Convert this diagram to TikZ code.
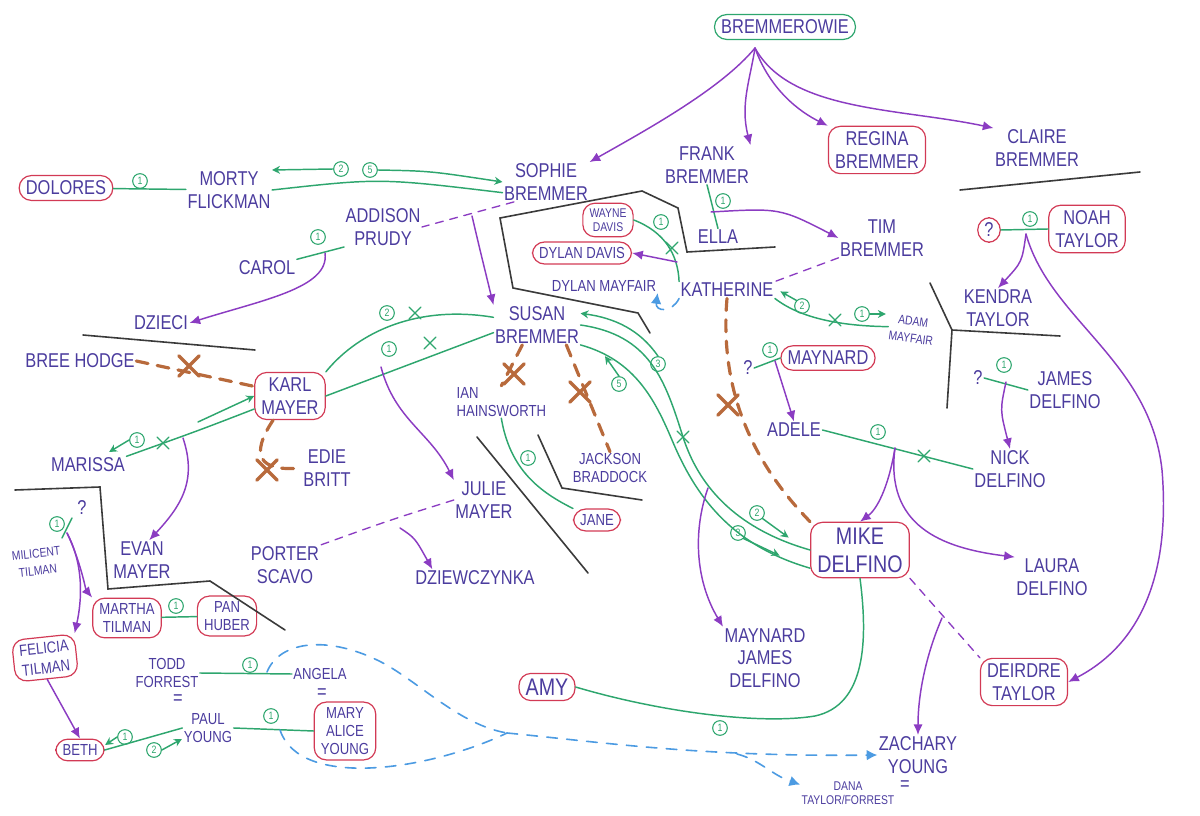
\documentclass[tikz,border=0pt]{standalone}
\usepackage{fontspec}
\setmainfont{Liberation Sans}[FakeStretch=0.82]
\usetikzlibrary{arrows.meta,shapes.misc}
\definecolor{ink}{HTML}{4B3C9E}
\definecolor{rose}{HTML}{D23A55}
\definecolor{leaf}{HTML}{2EA66E}
\definecolor{plum}{HTML}{8B3CC2}
\definecolor{rust}{HTML}{B86A3C}
\definecolor{sky}{HTML}{4C9BE2}
\definecolor{coal}{HTML}{3A3A3A}
\newcommand\nmsize{\fontsize{15}{17}\selectfont}
\newcommand\smsize{\fontsize{12}{13.5}\selectfont}
\newcommand\tnsize{\fontsize{9.5}{10.5}\selectfont}
\newcommand\tiltsize{\fontsize{9.5}{13}\selectfont}
\newcommand\lgsize{\fontsize{18}{21}\selectfont}
\newcommand\nrsize{\fontsize{8}{8}\selectfont}
\begin{document}
\begin{tikzpicture}[x=0.75pt, y=-0.75pt, line cap=round,
  who/.style={text=ink, font=\nmsize, align=center, inner sep=1pt},
  ring/.style={who, draw=rose, line width=0.9pt, rounded corners=9pt, inner xsep=5pt, inner ysep=4pt},
  kid/.style={draw=plum, line width=1.1pt, -{Latex[length=8pt,width=7pt]}},
  wed/.style={draw=leaf, line width=1.1pt},
  wedto/.style={wed, -{Stealth[length=6pt,width=6pt]}},
  nr/.style={circle, draw=leaf, text=leaf, line width=0.8pt, font=\nrsize, inner sep=0pt, minimum size=11pt},
  cut/.style={cross out, draw=leaf, line width=0.9pt, minimum size=8pt, inner sep=0pt},
  cheat/.style={draw=rust, line width=2.4pt, dash pattern=on 9pt off 7pt},
  bigcut/.style={cross out, draw=rust, line width=2.4pt, minimum size=13pt, inner sep=0pt},
  fling/.style={draw=plum, line width=1pt, dash pattern=on 6pt off 5pt},
  trail/.style={draw=sky, line width=1.2pt, dash pattern=on 8pt off 7pt},
  wall/.style={draw=coal, line width=1.2pt}]
\useasboundingbox (0,0) rectangle (1200,816);

% people
\node[ring, draw=leaf] (brw) at (785,27) {BREMMEROWIE};
\node[who] (sophie) at (546,182) {SOPHIE\\BREMMER};
\node[who] (frank) at (707,165) {FRANK\\BREMMER};
\node[ring] (regina) at (877,150) {REGINA\\BREMMER};
\node[who] (claire) at (1037,148) {CLAIRE\\BREMMER};
\node[ring] (dolores) at (66,188) {DOLORES};
\node[who] (morty) at (229,190) {MORTY\\FLICKMAN};
\node[who] (addison) at (383,227) {ADDISON\\PRUDY};
\node[who] (carol) at (267,268) {CAROL};
\node[who] (dzieci) at (161,323) {DZIECI};
\node[who] (bree) at (80,361) {BREE HODGE};
\node[ring] (karl) at (290,396) {KARL\\MAYER};
\node[who] (edie) at (327,468) {EDIE\\BRITT};
\node[who] (marissa) at (88,465) {MARISSA};
\node[who] (evan) at (142,560) {EVAN\\MAYER};
\node[who, font=\tiltsize, rotate=6] (milicent) at (37,562) {MILICENT\\TILMAN};
\node[who] (qmil) at (82,508) {?};
\node[ring, font=\smsize] (martha) at (127,618) {MARTHA\\TILMAN};
\node[ring, font=\smsize] (pan) at (227,616) {PAN\\HUBER};
\node[ring, font=\fontsize{12}{15}\selectfont, rotate=6] (felicia) at (45,658) {FELICIA\\TILMAN};
\node[ring, font=\smsize] (beth) at (80,750) {BETH};
\node[who, font=\smsize] (todd) at (167,673) {TODD\\FORREST};
\node[who] (eqtodd) at (178,700) {=};
\node[who, font=\smsize] (angela) at (320,674) {ANGELA};
\node[who] (eqang) at (322,694) {=};
\node[ring, font=\smsize] (mary) at (345,731) {MARY\\ALICE\\YOUNG};
\node[who, font=\smsize] (paul) at (208,728) {PAUL\\YOUNG};
\node[who] (porter) at (285,565) {PORTER\\SCAVO};
\node[who] (dziew) at (475,578) {DZIEWCZYNKA};
\node[who] (julie) at (484,500) {JULIE\\MAYER};
\node[who] (susan) at (537,325) {SUSAN\\BREMMER};
\node[who, align=left, font=\smsize, anchor=west] (ian) at (455,402) {IAN\\HAINSWORTH};
\node[who, font=\smsize] (jackson) at (610,468) {JACKSON\\BRADDOCK};
\node[ring, font=\smsize] (jane) at (597,520) {JANE};
\node[ring, font=\tnsize] (wayne) at (608,220) {WAYNE\\DAVIS};
\node[ring, font=\smsize] (dylan) at (582,253) {DYLAN DAVIS};
\node[who] (ella) at (718,237) {ELLA};
\node[who] (tim) at (882,238) {TIM\\BREMMER};
\node[who, font=\smsize] (dylanm) at (604,286) {DYLAN MAYFAIR};
\node[who] (kath) at (727,290) {KATHERINE};
\node[who, font=\tiltsize, rotate=-8] (adam) at (912,330) {ADAM\\MAYFAIR};
\node[ring] (maynard) at (828,358) {MAYNARD};
\node[who] (qmay) at (748,368) {?};
\node[who] (adele) at (794,430) {ADELE};
\node[ring] (noah) at (1087,229) {NOAH\\TAYLOR};
\node[ring] (qnoah) at (989,230) {?};
\node[who] (kendra) at (998,308) {KENDRA\\TAYLOR};
\node[who] (qjames) at (978,378) {?};
\node[who] (james) at (1065,390) {JAMES\\DELFINO};
\node[who] (nick) at (1010,469) {NICK\\DELFINO};
\node[ring, font=\lgsize] (mike) at (860,550) {MIKE\\DELFINO};
\node[who] (laura) at (1052,577) {LAURA\\DELFINO};
\node[who] (mjd) at (765,658) {MAYNARD\\JAMES\\DELFINO};
\node[ring, font=\lgsize] (amy) at (547,687) {AMY};
\node[ring] (deirdre) at (1024,682) {DEIRDRE\\TAYLOR};
\node[who] (zach) at (918,755) {ZACHARY\\YOUNG};
\node[who] (eqzach) at (905,786) {=};
\node[who, font=\tnsize] (dana) at (848,793) {DANA\\TAYLOR/FORREST};

% walls
\draw[wall] (960,190) -- (1140,172);
\draw[wall] (83,335) -- (255,350);
\draw[wall] (650,333) -- (638,313) -- (513,288) -- (500,218) -- (642,191) -- (678,208) -- (687,252) -- (775,247);
\draw[wall] (930,283) -- (952,330) -- (1060,336);
\draw[wall] (952,330) -- (947,408);
\draw[wall] (15,490) -- (100,487) -- (108,589) -- (210,581) -- (285,630);
\draw[wall] (477,437) -- (588,573);
\draw[wall] (538,435) -- (562,488) -- (642,500);

% Bremmerowie
\coordinate (brwfoot) at (755,48);
\draw[kid] (brwfoot) .. controls (722,88) and (650,128) .. (sophie.north east);
\draw[kid] (brwfoot) .. controls (750,80) and (740,105) .. (frank.north east);
\draw[kid] (brwfoot) .. controls (770,90) and (800,112) .. (regina.north west);
\draw[kid] (brwfoot) .. controls (790,112) and (900,108) .. (claire.north west);

% Dolores, Morty, Sophie
\draw[wed] (dolores) -- (morty);
\node[nr] (dm1) at (140,181) {1};
\node[nr] (ms2) at (341,169) {2};
\node[nr] (ms5) at (370,170) {5};
\draw[wedto] (ms2.west) -- (morty.north east);
\draw[wedto] (ms5.east) .. controls (430,171) .. (sophie.west);
\draw[wed] (morty.east) .. controls (380,178) .. ([yshift=-8pt]sophie.west);

% Addison, Carol
\draw[wed] (carol.north east) -- (addison.south west);
\node[nr] (ac1) at (318,237) {1};
\coordinate (acfoot) at (325,253);
\draw[kid] (acfoot) .. controls (330,288) and (262,300) .. (dzieci.east);
\coordinate (sofoot) at (472,216);
\draw[fling] ([xshift=-24pt]sophie.south) -- (addison.east);
\draw[kid] (sofoot) .. controls (480,250) .. (susan.north west);

% Frank, Ella, Tim
\draw[wed] (frank.south) -- (ella.north);
\node[nr] (fe1) at (723,201) {1};
\coordinate (fefoot) at (711,212);
\draw[kid] (fefoot) .. controls (780,208) .. (tim.west);
\draw[fling] (tim.south west) -- (kath.north east);

% Katherine
\draw[wed] (wayne.east) .. controls (665,232) and (678,255) .. (kath.north west);
\node[nr] (wk1) at (661,222) {1};
\node[cut] (wkx) at (672,248) {};
\coordinate (wkfoot) at (677,262);
\draw[kid] (wkfoot) -- (dylan.east);
\draw[trail, -{Latex[length=8pt,width=8pt]}] (kath.south west) .. controls (672,313) and (655,312) .. (dylanm.south east);
\draw[wed] (kath.south east) .. controls (800,318) and (840,326) .. (adam.west);
\node[nr] (ka2) at (802,306) {2};
\draw[wedto] (ka2.north west) -- ++(-16,-9);
\node[cut] (kax) at (835,320) {};
\node[nr] (ka1) at (862,314) {1};
\draw[wedto] (ka1.east) -- ++(16,0);
\draw[cheat] (kath.south) .. controls (720,380) and (745,455) .. (mike.north west);
\node[bigcut] (kmx) at (728,405) {};

% Maynard, Adele, Nick
\draw[wed] (qmay.east) -- (maynard.west);
\node[nr] (qm1) at (770,350) {1};
\coordinate (qmfoot) at (775,361);
\draw[kid] (qmfoot) -- (adele.north);
\draw[wed] (adele.east) -- (nick.west);
\node[nr] (an1) at (878,432) {1};
\node[cut] (anx) at (924,456) {};
\coordinate (anfoot) at (895,448);
\draw[kid] (anfoot) .. controls (888,490) and (876,510) .. (mike.north);
\draw[kid] (anfoot) .. controls (885,525) and (940,548) .. (laura.north west);

% Noah, James
\draw[wed] (qnoah.east) -- (noah.west);
\node[nr] (qn1) at (1030,219) {1};
\coordinate (qnfoot) at (1026,234);
\draw[kid] (qnfoot) .. controls (1022,262) .. (kendra.north);
\draw[kid] (qnfoot) .. controls (1050,320) and (1150,360) .. (1162,470) .. controls (1172,590) and (1130,650) .. (deirdre.east);
\draw[wed] (qjames.east) -- (james.west);
\node[nr] (qj1) at (1004,365) {1};
\coordinate (qjfoot) at (1006,382);
\draw[kid] (qjfoot) .. controls (1000,410) .. (nick.north);

% Susan, Karl
\draw[wed] (karl.north east) .. controls (360,330) and (420,305) .. (susan.170);
\node[nr] (sk2) at (387,313) {2};
\node[cut] (sk2x) at (415,313) {};
\draw[wed] (karl.east) -- (susan.190);
\node[nr] (sk1) at (389,349) {1};
\node[cut] (sk1x) at (430,343) {};
\coordinate (skfoot) at (381,367);
\draw[kid] (skfoot) .. controls (395,420) and (430,432) .. (julie.north west);
\draw[cheat] ([xshift=-11pt]susan.south) -- (ian.north);
\node[bigcut] (six) at (514,374) {};
\draw[cheat] ([xshift=22pt]susan.south) -- (jackson.north);
\node[bigcut] (sjx) at (580,392) {};
\draw[wed] (ian.south) .. controls (510,470) and (540,492) .. (jane.north west);
\node[nr] (ij1) at (528,458) {1};

% Susan, Mike
\node[nr] (sm3) at (658,364) {3};
\draw[wedto] (sm3.north) .. controls (640,330) and (615,318) .. (susan.15);
\draw[wed] (susan.east) .. controls (650,335) and (665,380) .. (683,437) .. controls (700,490) and (740,530) .. (mike.west);
\node[cut] (smx) at (683,437) {};
\draw[wed] (susan.south east) .. controls (635,360) and (655,400) .. (672,440) .. controls (695,495) and (730,545) .. (mike.200);
\node[nr] (sm5) at (619,384) {5};
\draw[wedto] (sm5.north) -- ++(-14,-20);
\node[nr] (sm2) at (757,513) {2};
\draw[wedto] (sm2.south east) -- ++(26,19);
\node[nr] (sm3b) at (738,533) {3};
\draw[wedto] (sm3b.south east) -- ++(36,17);
\coordinate (mjfoot) at (708,488);
\draw[kid] (mjfoot) .. controls (693,530) and (695,580) .. (mjd.north west);

% Amy, Deirdre
\draw[wed] (amy.east) .. controls (660,712) and (760,725) .. (815,716) .. controls (866,705) and (868,640) .. (mike.south);
\node[nr] (am1) at (720,728) {1};
\draw[fling] (mike.south east) -- (deirdre.north west);
\coordinate (mdfoot) at (942,618);
\draw[kid] (mdfoot) .. controls (928,650) and (918,690) .. (zach.north);

% Karl, Marissa, Bree, Edie
\coordinate (km0) at (198,422);
\draw[wedto] (km0) -- (karl.west);
\draw[wed] (karl.200) .. controls (200,430) .. (marissa.north east);
\node[cut] (kmx2) at (163,443) {};
\node[nr] (km1) at (137,440) {1};
\draw[wedto] (km1.west) -- ++(-20,12);
\coordinate (kmfoot) at (183,438);
\draw[kid] (kmfoot) .. controls (197,480) and (182,505) .. (evan.70);
\draw[cheat] (karl.235) .. controls (250,455) and (258,472) .. (edie.west);
\node[bigcut] (kex) at (267,470) {};
\draw[cheat] (bree.east) -- (karl.165);
\node[bigcut] (bkx) at (189,366) {};

% Julie, Porter
\draw[fling] (julie.west) .. controls (390,520) .. (porter.north east);
\coordinate (jpfoot) at (400,528);
\draw[kid] (jpfoot) .. controls (415,538) .. ([xshift=14pt]dziew.north west);

% Tilman
\coordinate (mil0) at (62,538);
\coordinate (mil1) at (72,518);
\draw[wed] (mil0) -- (mil1);
\node[nr] (ml1) at (57,524) {1};
\coordinate (milfoot) at (67,533);
\draw[kid] (milfoot) .. controls (84,565) and (82,600) .. (felicia.north east);
\draw[kid] (milfoot) .. controls (80,560) and (86,590) .. (martha.north west);
\draw[wed] (martha) -- (pan);
\node[nr] (mp1) at (176,606) {1};
\draw[kid] (felicia.south) -- (beth.north);

% Forrest, Young
\draw[wed] (todd.east) -- (angela.west);
\node[nr] (ta1) at (250,665) {1};
\draw[wed] (paul.east) -- (mary.west);
\node[nr] (pm1) at (271,716) {1};
\draw[wed] (beth.east) -- (paul.west);
\node[nr] (bp1) at (125,737) {1};
\draw[wedto] (bp1.west) -- ++(-12,8);
\node[nr] (bp2) at (154,750) {2};
\draw[wedto] (bp2.east) -- ++(20,-11);

% trail
\coordinate (loopA) at (267,672);
\coordinate (loopB) at (280,730);
\coordinate (knot) at (507,733);
\coordinate (fork) at (737,754);
\draw[trail] (loopA) .. controls (280,640) and (330,635) .. (383,663) .. controls (420,683) and (460,725) .. (knot);
\draw[trail] (loopB) .. controls (300,790) and (430,770) .. (knot);
\draw[trail, -{Latex[length=8pt,width=8pt]}] (knot) .. controls (600,742) and (700,757) .. (zach.west);
\draw[trail, -{Latex[length=8pt,width=8pt]}] (fork) .. controls (760,760) and (772,775) .. (dana.170);
\end{tikzpicture}
\end{document}
